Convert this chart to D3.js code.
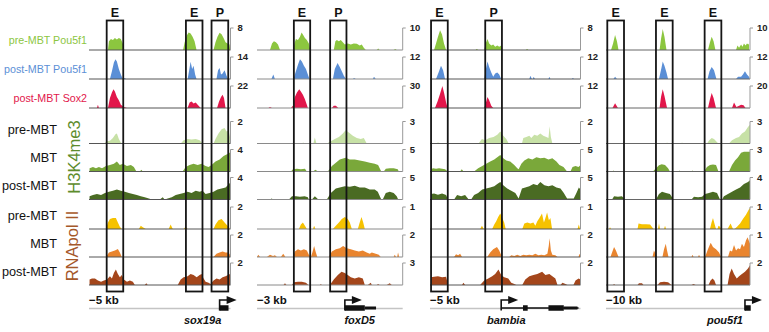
<!DOCTYPE html>
<html>
<head>
<meta charset="utf-8">
<script src="https://cdn.jsdelivr.net/npm/d3@7"></script>
<style>
  body { margin: 0; background: #fff; }
  svg text { font-family: "Liberation Sans", Arial, sans-serif; }
</style>
</head>
<body>
<div id="chart"></div>
<script>
// ---- data (positions are % of each genomic window, heights are fraction of track scale) ----
const genes = ["sox19a", "foxD5", "bambia", "pou5f1"];
const kbLabels = ["\u22125 kb", "\u22123 kb", "\u22125 kb", "\u221210 kb"];
const tracks = ["pre-MBT Pou5f1", "post-MBT Pou5f1", "post-MBT Sox2",
  "H3K4me3 pre-MBT", "H3K4me3 MBT", "H3K4me3 post-MBT",
  "RNApol II pre-MBT", "RNApol II MBT", "RNApol II post-MBT"];
const scaleMax = [
  [8, 14, 22, 2, 4, 4, 2, 2, 2],
  [10, 12, 30, 3, 5, 5, 1, 2, 3],
  [8, 12, 12, 2, 5, 5, 1, 2, 2],
  [10, 12, 20, 3, 3, 4, 1, 1, 2]
];
const regions = [
  [["E", 12.5, 24.2], ["E", 68.5, 80.2], ["P", 86.6, 98.4]],
  [["E", 25.3, 36.5], ["P", 50.2, 61.4]],
  [["E", 0.7, 11.8], ["P", 36.7, 47.8]],
  [["E", 0.9, 12.5], ["E", 34.7, 46.3], ["E", 68.5, 80.1]]
];
const tssPos = [92.3, 60.3, 47.3, 96.5];
const intronSpan = [null, null, [47.3, 98.7], null];
const exons = [
  [[92.3, 98.6, "cds"]],
  [[60.3, 74, "cds"], [74, 81.7, "utr"]],
  [[61.8, 64.9, "cds"], [78.7, 88.9, "cds"], [88.9, 98, "utr"]],
  [[96.5, 100.5, "cds"]]
];
const geneLabelPos = [80.3, 70.5, 50.7, 82.6];

const sox19aTracks = [
  [[0,0],[13.4,0],[14.1,0.4],[15.5,0.5],[16.9,0.45],[18.3,0.55],[19.7,0.48],[21.1,0.55],[22.5,0.5],[23.9,0.3],[25,0],[66.5,0],[67.6,0.35],[69,0.65],[70.4,0.8],[71.8,0.75],[73.2,0.6],[74.6,0.4],[76,0],[88,0],[89.4,0.35],[90.8,0.6],[92.3,0.78],[93.7,0.72],[95.1,0.55],[96.5,0.35],[97.9,0.3],[99.3,0.25],[99.8,0]],
  [[14.8,0],[16.2,0.35],[17.6,0.75],[18.7,0.9],[19.7,0.8],[21.1,0.45],[22.5,0.2],[23.9,0],[25.4,0.05],[26,0],[69.7,0],[70.8,0.4],[71.8,0.78],[72.9,0.45],[73.9,0.6],[75,0.2],[76,0],[90.1,0],[91.2,0.4],[92.3,0.5],[93.3,0.2],[94.4,0.25],[95.8,0.4],[97.2,0.15],[98.2,0]],
  [[5.6,0],[6.3,0.15],[7,0],[13.4,0],[14.8,0.45],[16.2,0.7],[17.3,0.85],[18.3,0.75],[19.7,0.5],[21.1,0.35],[22.5,0.15],[24.6,0.05],[26.8,0],[69.7,0],[71.1,0.25],[72.5,0.3],[73.9,0.2],[75.4,0.25],[76.8,0.15],[78.9,0],[90.5,0],[91.9,0.3],[93.3,0.5],[94.4,0.6],[95.4,0.45],[96.5,0]],
  [[10.6,0],[12.7,0.1],[14.8,0.12],[16.9,0.25],[18.7,0.42],[19.7,0.45],[21.1,0.2],[22.5,0.05],[23.9,0],[64.8,0],[66.9,0.15],[69.7,0.2],[72.5,0.18],[75.4,0.2],[78.2,0.15],[80.3,0],[88,0],[89.4,0.2],[91.5,0.45],[93.7,0.65],[95.8,0.7],[97.2,0.55],[98.6,0.6],[99.6,0.3]],
  [[0.4,0.15],[2.8,0.2],[4.9,0.15],[7,0.2],[9.2,0.15],[12,0.25],[14.8,0.3],[17.6,0.35],[19.7,0.45],[21.8,0.3],[23.9,0.35],[26.8,0.25],[29.6,0.3],[31.7,0.2],[33.5,0],[35.9,0],[37,0.08],[38,0],[66.2,0],[68.3,0.2],[71.1,0.3],[73.9,0.35],[76.8,0.3],[79.6,0.35],[82.4,0.25],[84.5,0.2],[86.6,0.3],[89.4,0.45],[92.3,0.55],[95.1,0.7],[97.9,0.8],[99.6,0.86]],
  [[0.4,0.15],[2.8,0.2],[5.6,0.25],[8.5,0.2],[11.3,0.3],[14.1,0.35],[16.9,0.4],[19.7,0.45],[22.5,0.4],[25.4,0.35],[28.2,0.3],[31,0.25],[33.8,0.2],[36.6,0.15],[39.4,0.1],[42.3,0.05],[44.4,0],[50,0],[52.1,0.1],[53.5,0],[55.6,0.05],[58.5,0.1],[61.3,0.2],[64.1,0.25],[66.9,0.3],[69.7,0.35],[72.5,0.3],[75.4,0.4],[78.2,0.35],[80.3,0.4],[82.4,0.25],[85.2,0.3],[88,0.35],[90.8,0.45],[93.7,0.5],[96.5,0.55],[99.6,0.75]],
  [[12,0],[13.4,0.3],[14.8,0.45],[16.9,0.5],[19,0.5],[20.4,0.3],[21.8,0.1],[23.2,0],[35.2,0],[36.6,0.15],[38,0.08],[40.1,0],[56.3,0],[57.7,0.2],[59.2,0],[66.9,0],[68.3,0.1],[69.7,0],[88,0],[89.4,0.2],[91.5,0.4],[93.7,0.45],[95.8,0.3],[97.9,0.15],[99.3,0.05]],
  [[12,0],[14.1,0.2],[16.2,0.25],[18.3,0.3],[20.4,0.36],[21.8,0.2],[23.2,0],[88,0],[90.1,0.15],[92.3,0.2],[94.4,0.25],[96.5,0.2],[98.6,0.2],[99.6,0.1]],
  [[0.4,0.25],[2.1,0.3],[4.2,0.3],[6.3,0.2],[8.5,0.15],[10.6,0.2],[12.7,0.25],[14.8,0.4],[16.2,0.3],[17.6,0.55],[19,0.7],[20.4,0.5],[21.8,0.35],[23.2,0.45],[24.6,0.25],[26.8,0.15],[28.9,0.2],[31,0.15],[32.4,0],[39.4,0],[40.5,0.08],[41.5,0],[62.7,0],[64.8,0.25],[66.9,0.35],[69.7,0.4],[71.8,0.5],[73.9,0.45],[76.1,0.35],[78.2,0.45],[79.6,0.5],[81,0.3],[82.4,0.15],[84.5,0.1],[85.9,0.05],[88,0.2],[90.1,0.3],[92.3,0.25],[94.4,0.35],[96.5,0.4],[99.6,0.5]]
];

const foxD5Tracks = [
  [[8.9,0],[10.3,0.3],[11.6,0.4],[13,0.35],[14.4,0.25],[15.8,0],[24.7,0],[25.7,0.3],[26.7,0.5],[28.1,0.45],[29.5,0.6],[30.6,0.8],[31.5,0.7],[32.9,0.55],[34.2,0.45],[35.6,0.3],[36.6,0],[52.7,0],[53.8,0.4],[54.8,0.45],[56.2,0.4],[57.5,0.45],[58.9,0.35],[60.3,0.25],[62.3,0.3],[64.4,0.25],[66.4,0.3],[68.5,0.28],[70.5,0.2],[71.9,0.25],[73.3,0.1],[74.7,0],[82.2,0],[83.2,0.07],[84.2,0],[93.8,0],[94.9,0.05],[95.9,0]],
  [[9.9,0],[11.2,0.2],[12.3,0],[25,0],[26.7,0.35],[28.1,0.65],[29.5,0.9],[30.8,0.8],[32.2,0.6],[33.6,0.45],[34.9,0.2],[36,0],[52.1,0],[53.4,0.45],[55.3,0.73],[56.8,0.55],[58.2,0.35],[59.6,0.15],[61,0],[65.8,0],[66.6,0.05],[67.8,0],[79.5,0],[80.3,0.1],[81.5,0]],
  [[7.9,0],[8.9,0.05],[10.3,0],[23.3,0],[24.7,0.1],[26,0.5],[27.4,0.7],[29,0.85],[30.1,0.75],[31.5,0.6],[32.9,0.4],[34.2,0.15],[34.9,0],[51.4,0],[52.7,0.1],[54.1,0.1],[55.8,0]],
  [[30.8,0],[31.7,0.05],[32.5,0],[38.7,0],[39.7,0.27],[40.8,0],[47.9,0],[50.7,0.1],[53.4,0.2],[56.2,0.3],[58.9,0.45],[60.8,0.6],[63,0.5],[65.8,0.35],[68.5,0.25],[71.2,0.2],[73.3,0.25],[75.3,0]],
  [[23.3,0],[24.7,0.1],[27.4,0.12],[30.1,0.1],[32.9,0.12],[34.2,0],[38.4,0],[40.1,0.08],[41.8,0],[48.6,0],[51.4,0.25],[54.1,0.4],[56.8,0.55],[60.8,0.63],[63.7,0.55],[67.1,0.55],[70.5,0.5],[74,0.45],[77.4,0.4],[80.8,0.35],[83.1,0.3],[85.3,0],[87,0],[88.4,0.12],[91.1,0.15],[93.8,0.15],[96.6,0.1],[97.3,0]],
  [[8.9,0],[10.1,0.05],[11,0],[21.9,0],[24,0.15],[26.7,0.15],[29.5,0.12],[32.7,0.15],[34.9,0.1],[35.6,0],[37.7,0],[39.7,0.15],[42.1,0],[47.9,0],[50.7,0.3],[54.1,0.5],[56.8,0.55],[60.3,0.6],[63.7,0.58],[67.1,0.62],[70.5,0.55],[74,0.55],[77.4,0.45],[80.8,0.45],[82.9,0.35],[85.3,0],[86.3,0],[88.4,0.3],[91.1,0.35],[93.8,0.3],[95.9,0.15],[96.9,0]],
  [[28.8,0],[30.1,0.2],[31.5,0.3],[32.9,0.15],[34.2,0],[38.4,0],[39.2,0.15],[40.1,0],[52.1,0],[54.1,0.15],[56.2,0.3],[58.2,0.45],[60.3,0.55],[62.3,0.45],[63.7,0.3],[65.1,0],[69.2,0],[70.5,0.3],[71.7,0.55],[72.9,0.3],[74,0]],
  [[0,0],[0.9,0.1],[2.1,0],[6.8,0],[8.9,0.1],[11,0.05],[12.3,0.08],[13.7,0],[16.4,0],[18,0.15],[19.5,0],[24.7,0],[26,0.25],[28.1,0.35],[30.1,0.3],[32.2,0.35],[34.2,0.3],[35.6,0.1],[37,0],[38,0.2],[39.2,0.5],[40.4,0.2],[41.4,0],[49.3,0],[51.4,0.25],[54.1,0.35],[56.8,0.4],[59.1,0.5],[61.6,0.4],[64.4,0.35],[67.1,0.3],[69.9,0.25],[72.6,0.3],[75.3,0.2],[77.4,0.15],[78.8,0.2],[81.5,0.15],[83.6,0.1],[84.9,0],[93.8,0],[94.5,0.1],[95.5,0],[96.2,0],[96.8,0.2],[97.6,0]],
  [[18.2,0],[19.2,0.08],[20.2,0],[24,0],[25.3,0.12],[28.1,0.15],[30.8,0.15],[33.6,0.1],[35.3,0],[43.2,0],[43.8,0.05],[44.5,0],[50,0],[52.7,0.25],[55.5,0.45],[58,0.6],[60.3,0.55],[62.3,0.45],[64.4,0.35],[67.1,0.3],[69.9,0.35],[72.6,0.3],[74,0],[76,0],[78.1,0.1],[78.8,0],[82.2,0],[83.1,0.05],[84.2,0],[89,0],[91.1,0.08],[92.5,0]]
];

const bambiaTracks = [
  [[2.7,0],[4,0.3],[5.3,0.6],[6.7,0.9],[8,0.7],[9.3,0.3],[10.7,0],[30.3,0],[31.1,0.04],[32,0],[36,0],[37,0.3],[38.2,0.5],[39.3,0.3],[40.7,0.2],[42,0.25],[43.3,0.15],[44.7,0.2],[46,0.15],[47.3,0.2],[48,0],[63.7,0],[64.5,0.04],[65.3,0]],
  [[4,0],[5.7,0.3],[7.3,0.6],[8.7,0.4],[10,0],[36,0],[37,0.4],[38.2,0.8],[39.3,0.55],[40.7,0.3],[42,0.1],[43.3,0.25],[44.7,0.3],[46,0.2],[47.3,0],[66,0],[66.7,0.15],[67.7,0],[68.3,0],[68.9,0.1],[69.7,0],[78.7,0],[79.3,0.1],[80,0],[94.3,0],[94.9,0.05],[95.7,0]],
  [[3.3,0],[5,0.3],[6.7,0.65],[8.2,1],[9.3,0.7],[10.7,0.25],[11.7,0],[36,0],[37,0.2],[38.2,0.5],[39.3,0.35],[40.7,0.1],[42,0]],
  [[4,0],[5.3,0.04],[7.3,0],[32.2,0],[34.5,0.2],[36.7,0.15],[39.3,0.25],[42.2,0.3],[44.7,0.4],[46.7,0.55],[48.7,0.35],[50.7,0.2],[52.3,0],[61.1,0],[62,0.25],[64,0.3],[66,0.35],[67.3,0.25],[69.3,0.4],[71.3,0.35],[73.3,0.45],[75.3,0.35],[77.3,0.3],[78.7,0.25],[79.5,0.78],[80.3,0.3],[81.3,0]],
  [[0.7,0.1],[2,0.15],[4,0.12],[6,0.15],[8,0.12],[10,0.1],[11.8,0],[20,0],[21.1,0.1],[22.3,0],[29.3,0],[32,0.15],[34.7,0.25],[37.3,0.35],[40,0.45],[42.7,0.55],[44.7,0.65],[46.7,0.75],[48.7,0.6],[50.7,0.5],[53.3,0.45],[56,0.3],[58,0.15],[58.9,0.1],[60.7,0.35],[62.7,0.5],[65.3,0.6],[68,0.55],[70.7,0.65],[73.3,0.6],[76,0.62],[78.7,0.55],[81.3,0.6],[84,0.45],[86,0.3],[88.7,0.2],[91.1,0],[93.3,0],[94.7,0.2],[96.7,0.25],[98.7,0.2],[100,0.3]],
  [[0.7,0.25],[2.7,0.27],[5.3,0.22],[8,0.27],[10.7,0.2],[12,0],[16,0],[18,0.2],[20.7,0.15],[23.3,0.2],[25.7,0],[27.3,0],[29.3,0.2],[32,0.3],[34.7,0.45],[37.3,0.5],[40,0.55],[42.7,0.6],[44.7,0.7],[46.7,0.8],[48.7,0.65],[51.3,0.5],[54,0.4],[56.7,0.3],[58.9,0.05],[61.1,0.5],[63.3,0.55],[66,0.6],[68.7,0.7],[71.3,0.65],[73.3,0.8],[76,0.65],[78.7,0.6],[81.3,0.65],[84,0.55],[86.7,0.5],[88.9,0.3],[91.1,0.05],[95.5,0.05],[97.3,0.3],[98.9,0.55],[100,0.45]],
  [[33.3,0],[34.5,0.15],[35.7,0],[41.3,0],[42.7,0.2],[44,0.35],[45.3,0.55],[46.7,0.7],[48,0.5],[49.3,0.3],[50.3,0],[61.3,0],[62.7,0.25],[64.7,0.3],[66.7,0.25],[68.7,0.3],[70,0.15],[71.3,0.35],[72.7,0.5],[74.4,0.7],[75.7,0.3],[76.7,0.5],[77.8,0.75],[79,0.4],[80,0.5],[81.1,0],[98,0],[98.9,0.2],[99.7,0]],
  [[16,0],[17.3,0.12],[18.7,0.08],[20,0.15],[21.3,0],[38,0],[40,0.2],[42,0.35],[44.5,0.45],[46,0.3],[47.8,0],[52.7,0],[54,0.08],[56,0.05],[58,0.1],[60,0.05],[62,0.1],[64,0.08],[66,0.1],[68,0.08],[70,0.15],[72,0.08],[74,0.1],[76,0.08],[78,0.15],[78.9,0.5],[79.5,0.85],[80.3,0.3],[81.3,0.1],[83.3,0.08],[84.7,0],[98.7,0],[99.3,0.15],[100,0.05]],
  [[0.7,0.35],[2.7,0.38],[5.3,0.4],[8,0.35],[10.7,0.38],[12,0],[21.3,0],[22.2,0.1],[23.3,0],[33.3,0],[36,0.2],[38.7,0.3],[41.3,0.4],[43.3,0.5],[45.5,0.7],[47.3,0.45],[49.3,0.35],[52,0.3],[54,0.1],[56,0.05],[57.3,0],[61.3,0],[63.3,0.25],[66,0.4],[68.7,0.45],[71.3,0.5],[74.5,0.6],[76.7,0.45],[79.3,0.5],[81.3,0.4],[83.3,0.3],[84.7,0],[86.7,0],[88,0.1],[90,0.05],[91.3,0],[95.3,0],[96.7,0.2],[98.7,0.3],[100,0.25]]
];

const pou5f1Tracks = [
  [[3.5,0],[4.9,0.3],[6.3,0.68],[7.6,0.4],[8.7,0],[37.2,0],[38.2,0.5],[39.4,0.95],[40.6,0.6],[42,0],[70.8,0],[72.2,0.35],[73.4,0.6],[74.7,0.4],[76,0],[90.3,0],[91.3,0.2],[92.4,0.1],[93.8,0.25],[94.8,0.15],[95.8,0.3],[96.9,0.2],[97.9,0.3],[99,0.25],[99.3,0.3]],
  [[5.2,0],[6.3,0.1],[7.6,0],[36.8,0],[38.5,0.5],[39.4,0.8],[40.6,0.6],[42,0.3],[43.1,0],[70.5,0],[71.9,0.35],[73.4,0.55],[75,0.4],[76.7,0],[90.3,0],[91.7,0.1],[93.8,0.1],[95.1,0.2],[96.5,0.35],[97.9,0.2],[99.3,0.1],[100,0]],
  [[4.5,0],[6.3,0.22],[8.3,0],[37.2,0],[38.2,0.5],[39.4,0.85],[40.6,0.55],[42.4,0],[70.8,0],[72.2,0.4],[73.4,0.68],[74.7,0.45],[76.4,0],[87.5,0],[88.9,0.25],[90.6,0.05],[92.4,0.1],[93.8,0.15],[95.5,0.12],[96.9,0]],
  [[41.7,0],[42.4,0.05],[43.1,0],[52.1,0],[52.8,0.05],[53.5,0],[70.1,0],[71.7,0.15],[73.4,0.25],[75,0.2],[78,0],[85.4,0],[87.5,0.15],[90.3,0.25],[92.4,0.3],[94.4,0.45],[96.5,0.55],[98.6,0.75],[100,0.85]],
  [[4.2,0],[5.1,0.05],[5.9,0],[32.6,0],[34.7,0.15],[36.8,0.28],[38.7,0.33],[41,0.3],[43.1,0.15],[44.4,0],[50.3,0],[51,0.04],[51.7,0],[59.4,0],[60.1,0.04],[60.8,0],[68.1,0],[70.1,0.2],[72.2,0.3],[74.3,0.32],[76.4,0.3],[78.1,0],[85.4,0],[87.5,0.3],[89.6,0.5],[91.7,0.65],[93.8,0.85],[95.8,0.9],[100,0.9]],
  [[4.2,0],[5.6,0.15],[8.3,0.12],[11.1,0.15],[13.2,0],[34.7,0],[36.8,0.25],[38.9,0.35],[41.7,0.3],[44.4,0.25],[46.9,0],[59.4,0],[61.1,0.12],[63.9,0.1],[66.7,0.12],[68.8,0.25],[71.5,0.3],[74.3,0.35],[77.1,0.3],[79.2,0],[80.6,0],[81.9,0.15],[84.7,0.25],[87.5,0.35],[90.3,0.45],[93.1,0.55],[95.8,0.7],[98.6,0.8],[100,0.87]],
  [[2.1,0],[2.8,0.08],[3.5,0],[21.9,0],[22.6,0.25],[25,0.22],[27.8,0.22],[30.6,0.2],[33,0],[36.1,0],[36.8,0.25],[37.5,0],[40.3,0],[41,0.15],[41.7,0],[72.2,0],[73.3,0.3],[74.3,0.5],[75.3,0.25],[76.4,0],[77.4,0],[78.1,0.15],[79.2,0.1],[79.9,0],[84.4,0],[86.5,0.25],[88.2,0],[89.2,0],[91,0.1],[93.1,0.25],[95.1,0.45],[97.2,0.65],[99.3,0.9],[100,0.95]],
  [[3.1,0],[4.2,0.2],[5.6,0.45],[6.9,0.3],[8.7,0],[32.3,0],[33.3,0.3],[34.7,0.1],[35.4,0],[39.2,0],[40.3,0.35],[41.5,0.6],[42.4,0.3],[43.4,0],[59.4,0],[60,0.1],[60.8,0],[63.9,0],[64.6,0.1],[65.3,0],[68.8,0],[70.8,0.35],[72.7,0.65],[74.3,0.45],[76.4,0.35],[78.5,0.2],[79.9,0],[84.7,0],[86.1,0.3],[87.5,0.25],[88.9,0.55],[90.3,0.3],[91.7,0.4],[93.1,0.35],[94.4,0.6],[95.8,0.45],[97.2,0.75],[98.3,0.9],[100,0.6]],
  [[4.9,0],[5.6,0.05],[6.3,0],[21.9,0],[22.9,0.08],[25,0.08],[26,0],[35.8,0],[37.5,0.12],[40.3,0.15],[43.1,0.12],[45.5,0],[59.4,0],[60.8,0.05],[62.2,0],[71.2,0],[72.6,0.2],[74,0.3],[75.3,0.2],[76.4,0],[84.4,0],[85.8,0.5],[87.3,0.75],[88.9,0.5],[90.8,0.3],[92.4,0.4],[94.4,0.5],[96.5,0.6],[98.6,0.75],[100,0.9]]
];
const panelTracks = [sox19aTracks, foxD5Tracks, bambiaTracks, pou5f1Tracks];

// ---- layout / style ----
const W = 769, H = 332;
const panelX = [[89, 230.5], [257, 402.7], [430, 580.5], [606, 750]];
const baseY = [50, 79, 108, 143.5, 171.5, 199.5, 229, 257, 285];
const trackH = 22;
const trackColors = ["#8cc63f", "#5b8fd6", "#e2174b", "#c7e1a6", "#7aa83a", "#4a6b23",
  "#f6c200", "#e9852f", "#a4461b"];
const lineColors = ["#555", "#8a8a8a", "#555", "#666"];

const svg = d3.select("#chart").append("svg")
  .attr("width", W)
  .attr("height", H);

panelTracks.forEach((pTracks, pi) => {
  const x = d3.scaleLinear().domain([0, 100]).range(panelX[pi]);
  const g = svg.append("g").attr("class", "panel-" + genes[pi]);

  pTracks.forEach((pts, ti) => {
    const y = d3.scaleLinear().domain([0, 1]).range([baseY[ti], baseY[ti] - trackH]);
    const area = d3.area()
      .x(d => x(d[0]))
      .y0(y(0))
      .y1(d => y(d[1]));

    g.append("path")
      .datum(pts)
      .attr("d", area)
      .attr("fill", trackColors[ti]);

    // baseline
    g.append("line")
      .attr("x1", panelX[pi][0]).attr("x2", panelX[pi][1])
      .attr("y1", y(0)).attr("y2", y(0))
      .attr("stroke", lineColors[pi])
      .attr("stroke-width", 1);

    // scale bracket
    const bx = panelX[pi][1];
    g.append("path")
      .attr("d", `M${bx + 3},${y(1)}H${bx}V${y(0)}`)
      .attr("fill", "none")
      .attr("stroke", "#999")
      .attr("stroke-width", 1);

    g.append("text")
      .attr("x", bx + 7)
      .attr("y", y(1) + 3)
      .attr("font-size", 9.5)
      .attr("font-weight", "bold")
      .attr("fill", "#222")
      .text(scaleMax[pi][ti]);
  });

  // enhancer / promoter boxes
  regions[pi].forEach(r => {
    g.append("rect")
      .attr("x", x(r[1]))
      .attr("y", 20.5)
      .attr("width", x(r[2]) - x(r[1]))
      .attr("height", 271)
      .attr("fill", "none")
      .attr("stroke", "#151515")
      .attr("stroke-width", 1.8);
    g.append("text")
      .attr("x", (x(r[1]) + x(r[2])) / 2)
      .attr("y", 16.5)
      .attr("text-anchor", "middle")
      .attr("font-size", 12.5)
      .attr("font-weight", "bold")
      .attr("fill", "#111")
      .text(r[0]);
  });

  // kb label
  g.append("text")
    .attr("x", panelX[pi][0])
    .attr("y", 304)
    .attr("font-size", 11.5)
    .attr("font-weight", "bold")
    .attr("fill", "#111")
    .text(kbLabels[pi]);

  // locus line
  g.append("line")
    .attr("x1", panelX[pi][0]).attr("x2", panelX[pi][1])
    .attr("y1", 308.5).attr("y2", 308.5)
    .attr("stroke", "#c4c4c4")
    .attr("stroke-width", 1.5);

  // gene model
  if (intronSpan[pi]) {
    g.append("line")
      .attr("x1", x(intronSpan[pi][0])).attr("x2", x(intronSpan[pi][1]))
      .attr("y1", 308).attr("y2", 308)
      .attr("stroke", "#111").attr("stroke-width", 1.3);
  }
  exons[pi].forEach(e => {
    const h = e[2] === "cds" ? 5.5 : 3;
    g.append("rect")
      .attr("x", x(e[0]))
      .attr("y", 308 - h / 2)
      .attr("width", x(e[1]) - x(e[0]))
      .attr("height", h)
      .attr("fill", "#111");
  });
  const tx = x(tssPos[pi]);
  g.append("path")
    .attr("d", `M${tx},310.5V300H${tx + 8}`)
    .attr("fill", "none")
    .attr("stroke", "#111")
    .attr("stroke-width", 1.6);
  g.append("path")
    .attr("d", `M${tx + 7},296L${tx + 17},300L${tx + 7},304Z`)
    .attr("fill", "#111");

  g.append("text")
    .attr("x", x(geneLabelPos[pi]))
    .attr("y", 324)
    .attr("text-anchor", "middle")
    .attr("font-size", 11)
    .attr("font-weight", "bold")
    .attr("font-style", "italic")
    .attr("fill", "#111")
    .text(genes[pi]);
});

// ---- left labels ----
const factorLabels = [
  { text: "pre-MBT Pou5f1", ti: 0 },
  { text: "post-MBT Pou5f1", ti: 1 },
  { text: "post-MBT Sox2", ti: 2 }
];
factorLabels.forEach(l => {
  svg.append("text")
    .attr("x", 87)
    .attr("y", baseY[l.ti] - 10 + 4)
    .attr("text-anchor", "end")
    .attr("font-size", 10.7)
    .attr("fill", trackColors[l.ti])
    .text(l.text);
});

const stageLabels = ["pre-MBT", "MBT", "post-MBT"];
[3, 6].forEach(start => {
  stageLabels.forEach((s, i) => {
    svg.append("text")
      .attr("x", 57)
      .attr("y", baseY[start + i] - 14 + 4.5)
      .attr("text-anchor", "end")
      .attr("font-size", 12.7)
      .attr("fill", "#111")
      .text(s);
  });
});

svg.append("text")
  .attr("transform", "translate(80,157) rotate(-90)")
  .attr("text-anchor", "middle")
  .attr("font-size", 16.5)
  .attr("fill", "#5d8c2c")
  .text("H3K4me3");

svg.append("text")
  .attr("transform", "translate(78,246) rotate(-90)")
  .attr("text-anchor", "middle")
  .attr("font-size", 16.5)
  .attr("fill", "#a5582a")
  .text("RNApol II");
</script>
</body>
</html>
